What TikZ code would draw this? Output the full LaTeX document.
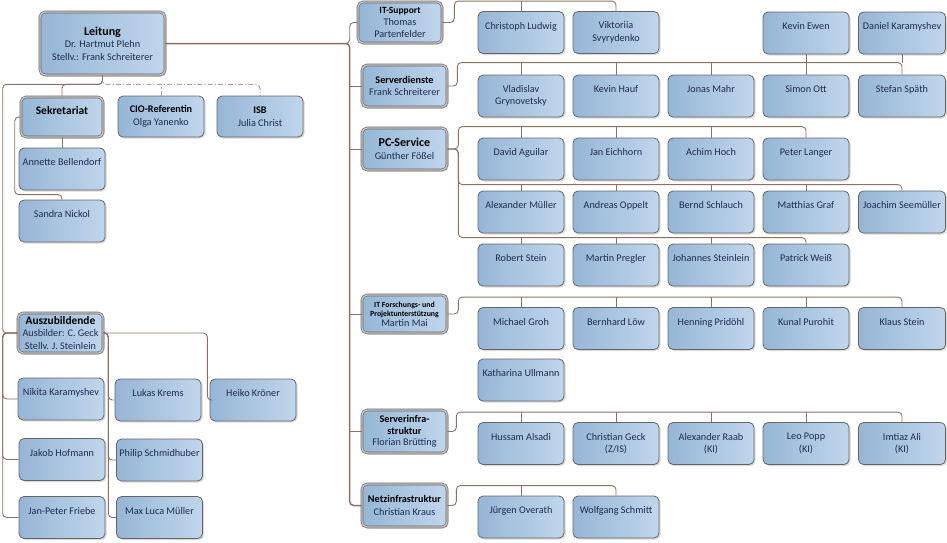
\documentclass[tikz,border=0pt]{standalone}
\usepackage{fontspec}
\setmainfont{Carlito}
\usetikzlibrary{shadows}
\definecolor{boxl}{RGB}{150,182,214}
\definecolor{boxr}{RGB}{192,214,236}
\definecolor{boxline}{RGB}{105,100,100}
\definecolor{txt}{RGB}{30,45,80}
\definecolor{linkc}{RGB}{140,112,102}
\definecolor{dashc}{RGB}{165,165,165}
\newcommand{\ttl}[2][10.2]{{\fontsize{#1}{12.5}\selectfont\textbf{\textcolor{black}{#2}}}}

\begin{document}
\begin{tikzpicture}[x=1pt,y=-1pt,
  box/.style={rounded corners=5pt, draw=boxline, line width=0.8pt, left color=boxl, right color=boxr,
    drop shadow={shadow xshift=1.5pt, shadow yshift=-1.5pt, opacity=0.3},
    align=center, text=txt, inner sep=1pt, font=\fontsize{10.2}{12.5}\selectfont},
  person/.style={box, minimum width=86pt, minimum height=42pt},
  solo/.style={person, text depth=14pt},
  head/.style={box, line width=0.6pt, double=gray!45, double distance=1.4pt, minimum width=85pt, minimum height=42pt},
  link/.style={draw=linkc, line width=0.9pt, rounded corners=4pt},
  trunk/.style={link, line width=1.5pt},
  dashlink/.style={draw=dashc, line width=1pt, dash pattern=on 5pt off 2pt on 1.2pt off 2pt, rounded corners=4pt}]
\useasboundingbox (0,0) rectangle (947,542);

\node[head, minimum width=125pt, minimum height=63pt] (lei) at (102.5,43.5) {\ttl[12]{Leitung}\\Dr. Hartmut Plehn\\Stellv.: Frank Schreiterer};
\node[head, minimum width=82pt, minimum height=40pt, text depth=14pt] (sek) at (62,117) {\ttl[11.5]{Sekretariat}};
\node[person, minimum height=41pt] (cio) at (161,116.5) {\ttl{CIO-Referentin}\\Olga Yanenko};
\node[person, minimum height=41pt] (isb) at (260,116.5) {\ttl{ISB}\\Julia Christ};
\node[solo] (ann) at (62,169) {Annette Bellendorf};
\node[solo] (san) at (62,221) {Sandra Nickol};

\node[head, minimum height=40pt] (azb) at (60.5,333) {\ttl[11.4]{Auszubildende}\\Ausbilder: C. Geck\\Stellv. J. Steinlein};
\node[solo] (nik) at (61,399) {Nikita Karamyshev};
\node[solo] (jak) at (62,459.5) {Jakob Hofmann};
\node[solo] (jpf) at (62,517.5) {Jan-Peter Friebe};
\node[solo] (luk) at (158,400) {Lukas Krems};
\node[solo] (phi) at (159.5,460) {Philip Schmidhuber};
\node[solo] (max) at (159.5,517.5) {Max Luca Müller};
\node[solo] (hei) at (253,400) {Heiko Kröner};

\node[head, minimum width=84pt, minimum height=41pt] (its) at (400,22.5) {\ttl[9.5]{IT-Support}\\[-0.5pt]Thomas\\[-0.5pt]Partenfelder};
\node[head] (sd) at (404.5,86) {\ttl{Serverdienste}\\Frank Schreiterer};
\node[head] (pc) at (404.5,149) {\ttl[12]{PC-Service}\\Günther Fößel};
\node[head, minimum height=38pt] (itf) at (404.5,314) {\ttl[7.8]{IT Forschungs- und}\\[-3.5pt]\ttl[7.8]{Projektunterstützung}\\[-2.5pt]Martin Mai};
\node[head, minimum height=43pt] (sif) at (404.5,431.5) {\ttl{Serverinfra-}\\[-1pt]\ttl{struktur}\\[-1pt]Florian Brütting};
\node[head, minimum height=43pt] (nez) at (404.5,505.5) {\ttl{Netzinfrastruktur}\\Christian Kraus};

\node[solo] (cl) at (521,32.5) {Christoph Ludwig};
\node[person] (vs) at (616,32.5) {Viktoriia\\Svyrydenko};
\node[solo] (ke) at (806,33) {Kevin Ewen};
\node[solo, minimum width=87pt] (dk) at (902,33) {Daniel Karamyshev};

\node[person] (vg) at (521,96) {Vladislav\\Grynovetsky};
\node[solo] (kh) at (616,96) {Kevin Hauf};
\node[solo] (jm) at (711,96) {Jonas Mahr};
\node[solo] (so) at (806,96) {Simon Ott};
\node[solo, minimum width=87pt] (sp) at (902,96) {Stefan Späth};

\node[solo] (da) at (521,159) {David Aguilar};
\node[solo] (je) at (616,159) {Jan Eichhorn};
\node[solo] (ah) at (711,159) {Achim Hoch};
\node[solo] (pl) at (806,159) {Peter Langer};
\node[solo] (am) at (521,212) {Alexander Müller};
\node[solo] (ao) at (616,212) {Andreas Oppelt};
\node[solo] (bs) at (711,212) {Bernd Schlauch};
\node[solo] (mg) at (806,212) {Matthias Graf};
\node[solo, minimum width=87pt] (jsm) at (902,212) {Joachim Seemüller};
\node[solo] (rs) at (521,265) {Robert Stein};
\node[solo] (mp) at (616,265) {Martin Pregler};
\node[solo] (jst) at (711,265) {Johannes Steinlein};
\node[solo] (pw) at (806,265) {Patrick Weiß};

\node[solo] (mgr) at (521,328.5) {Michael Groh};
\node[solo] (bl) at (616,328.5) {Bernhard Löw};
\node[solo] (hp) at (711,328.5) {Henning Pridöhl};
\node[solo] (kp) at (806,328.5) {Kunal Purohit};
\node[solo, minimum width=87pt] (kst) at (902,328.5) {Klaus Stein};
\node[solo] (ku) at (521,380) {Katharina Ullmann};

\node[solo] (ha) at (521,443.5) {Hussam Alsadi};
\node[person] (cg) at (616,443.5) {Christian Geck\\(Z/IS)};
\node[person] (ar) at (711,443.5) {Alexander Raab\\(KI)};
\node[person] (lp) at (806,443.5) {Leo Popp\\(KI)};
\node[person, minimum width=87pt] (ia) at (902,443.5) {Imtiaz Ali\\(KI)};

\node[solo] (jo) at (521,517) {Jürgen Overath};
\node[solo] (ws) at (616,517) {Wolfgang Schmitt};

\draw[dashlink] (lei.south) -- ++(0,9) -| (isb.north);
\draw[dashlink] (cio.north) -- ++(0,-12);
\draw[link] (lei.south) -- ++(0,9) -| (sek.north);
\draw[link] (lei.south) -- ++(0,9) -| ([xshift=-15pt]azb.west) -- (azb.west);
\draw[link] (sek.south) -- (ann.north);
\draw[link] (sek.west) -- ++(-6,0) |- ([yshift=5pt]san.north) -- (san.north);

\draw[link] (azb.west) -- ++(-15,0) |- (nik.west);
\draw[link] (azb.west) -- ++(-15,0) |- (jak.west);
\draw[link] (azb.west) -- ++(-15,0) |- (jpf.west);
\draw[link] (azb.east) -- ++(5,0) |- (luk.west);
\draw[link] (azb.east) -- ++(5,0) |- (phi.west);
\draw[link] (azb.east) -- ++(5,0) |- (max.west);
\draw[link] (azb.east) -- ++(104,0) |- (hei.west);

\draw[trunk] (lei.east) -| ([xshift=-12pt]nez.west) -- (nez.west);
\draw[link] (lei.east) -| ([xshift=-8pt]its.west) -- (its.west);
\draw[link] (sd.west) -- ++(-12,0) (pc.west) -- ++(-12,0) (itf.west) -- ++(-12,0) (sif.west) -- ++(-12,0);

\draw[link] (its.east) -- ++(12,0) |- ([yshift=10pt]vs.north) -- (vs.north);
\draw[link] (cl.north) -- ++(0,-10);

\draw[link] (sd.east) -- ++(10,0) |- ([yshift=12pt]sp.north) -- (sp.north);
\draw[link] (vg.north) -- ++(0,-12) (kh.north) -- ++(0,-12) (jm.north) -- ++(0,-12) (so.north) -- ++(0,-12);
\draw[link] (ke.south) -- ++(0,9) (dk.south) -- ++(0,9);

\draw[link] (pc.east) -- ++(11,0) |- ([yshift=11pt]pl.north) -- (pl.north);
\draw[link] (pc.east) -- ++(11,0) |- ([yshift=6pt]jsm.north) -- (jsm.north);
\draw[link] (pc.east) -- ++(11,0) |- ([yshift=6pt]pw.north) -- (pw.north);
\draw[link] (da.north) -- ++(0,-11) (je.north) -- ++(0,-11) (ah.north) -- ++(0,-11);
\draw[link] (am.north) -- ++(0,-6) (ao.north) -- ++(0,-6) (bs.north) -- ++(0,-6) (mg.north) -- ++(0,-6);
\draw[link] (rs.north) -- ++(0,-6) (mp.north) -- ++(0,-6) (jst.north) -- ++(0,-6);

\draw[link] (itf.east) -- ++(11,0) |- ([yshift=10pt]kst.north) -- (kst.north);
\draw[link] (mgr.north) -- ++(0,-10) (bl.north) -- ++(0,-10) (hp.north) -- ++(0,-10) (kp.north) -- ++(0,-10);

\draw[link] (sif.east) -- ++(9,0) |- ([yshift=10pt]ia.north) -- (ia.north);
\draw[link] (ha.north) -- ++(0,-10) (cg.north) -- ++(0,-10) (ar.north) -- ++(0,-10) (lp.north) -- ++(0,-10);

\draw[link] (nez.east) -- ++(9,0) |- ([yshift=10pt]ws.north) -- (ws.north);
\draw[link] (jo.north) -- ++(0,-10);
\end{tikzpicture}
\end{document}
